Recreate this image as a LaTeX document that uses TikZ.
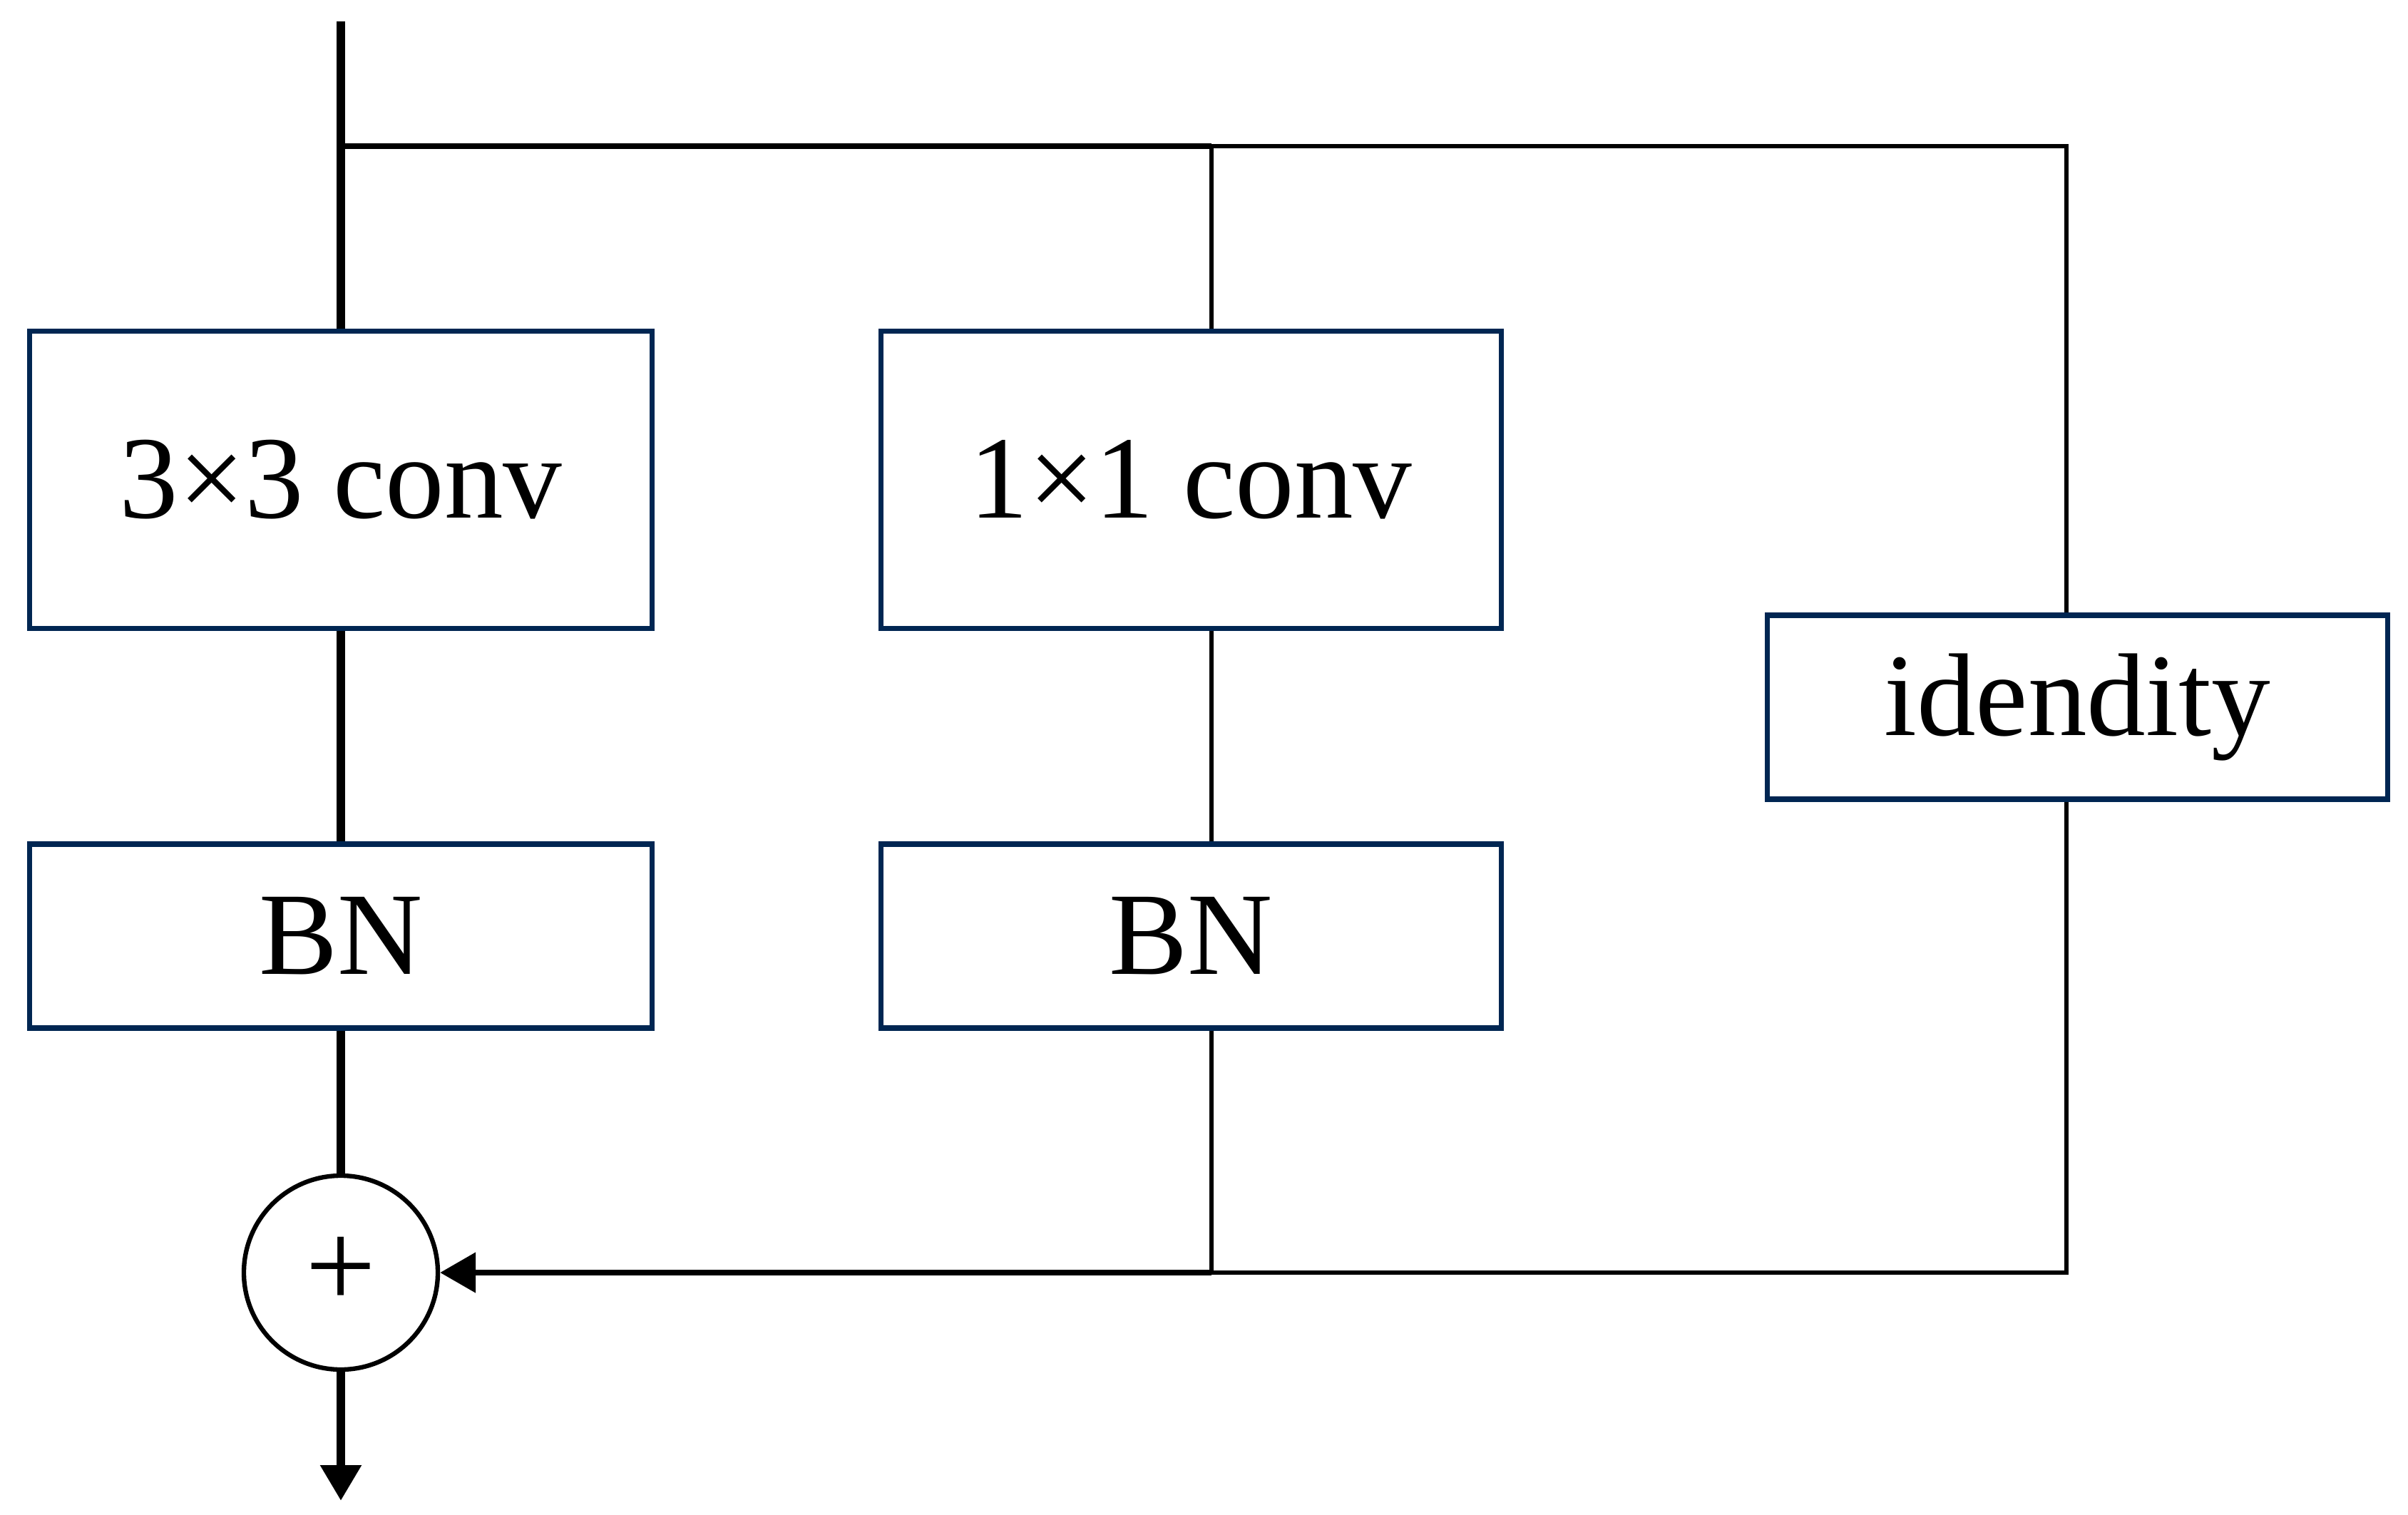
\documentclass[tikz,border=0pt]{standalone}
\usepackage{fontspec}
\setmainfont{Liberation Serif}
\usetikzlibrary{arrows.meta}
\definecolor{boxnavy}{HTML}{002652}
\tikzset{
  block/.style={draw=boxnavy, line width=2pt, rectangle, inner sep=0pt,
    font=\fontsize{47}{52}\selectfont},
  mainline/.style={line width=3.4pt},
  midline/.style={line width=2.4pt},
  thinline/.style={line width=1.8pt},
  tip/.style={-{Triangle[length=0.5cm,width=0.55cm]}}
}
\begin{document}
\begin{tikzpicture}
      \useasboundingbox (0,0) rectangle (33.77,-21.25);
      \draw
        (4.78,-6.73) node[block, minimum width=8.73cm, minimum height=4.17cm] (conv3){3×3 conv}
        (4.78,-13.13) node[block, minimum width=8.73cm, minimum height=2.58cm] (bn3){BN}
        (16.70,-6.73) node[block, minimum width=8.70cm, minimum height=4.17cm] (conv1){1×1 conv}
        (16.70,-13.13) node[block, minimum width=8.70cm, minimum height=2.58cm] (bn1){BN}
        (29.13,-9.92) node[block, minimum width=8.70cm, minimum height=2.58cm] (ident){idendity}
        (4.78,-17.85) node[circle, draw, line width=1.8pt, minimum size=2.72cm, inner sep=0pt,
          font=\fontsize{50}{54}\selectfont] (add){+};
      \coordinate (in) at (4.78,-0.30);
      \coordinate (split) at (4.78,-2.05);
      \coordinate (tap) at (16.99,-2.05);
      \coordinate (tapR) at (28.98,-2.05);
      \coordinate (join) at (16.99,-17.85);
      \coordinate (joinR) at (28.98,-17.85);
      \coordinate (out) at (4.78,-21.05);
      \begin{scope}[mainline]
        \draw (in) to (conv3);
        \draw (conv3) to (bn3);
        \draw (bn3) to (add);
        \draw[tip] (add) to (out);
      \end{scope}
      \begin{scope}[thinline]
        \draw[midline] (split) to (tap);
        \draw (tap) -- (tapR) -- (tapR |- ident.north);
        \draw (tap) to (tap |- conv1.north);
        \draw (tap |- conv1.south) to (tap |- bn1.north);
        \draw (tap |- bn1.south) to (join);
        \draw (tapR |- ident.south) -- (joinR) -- (join);
        \draw[midline, tip] (join) to (add);
      \end{scope}
    \end{tikzpicture}
\end{document}
